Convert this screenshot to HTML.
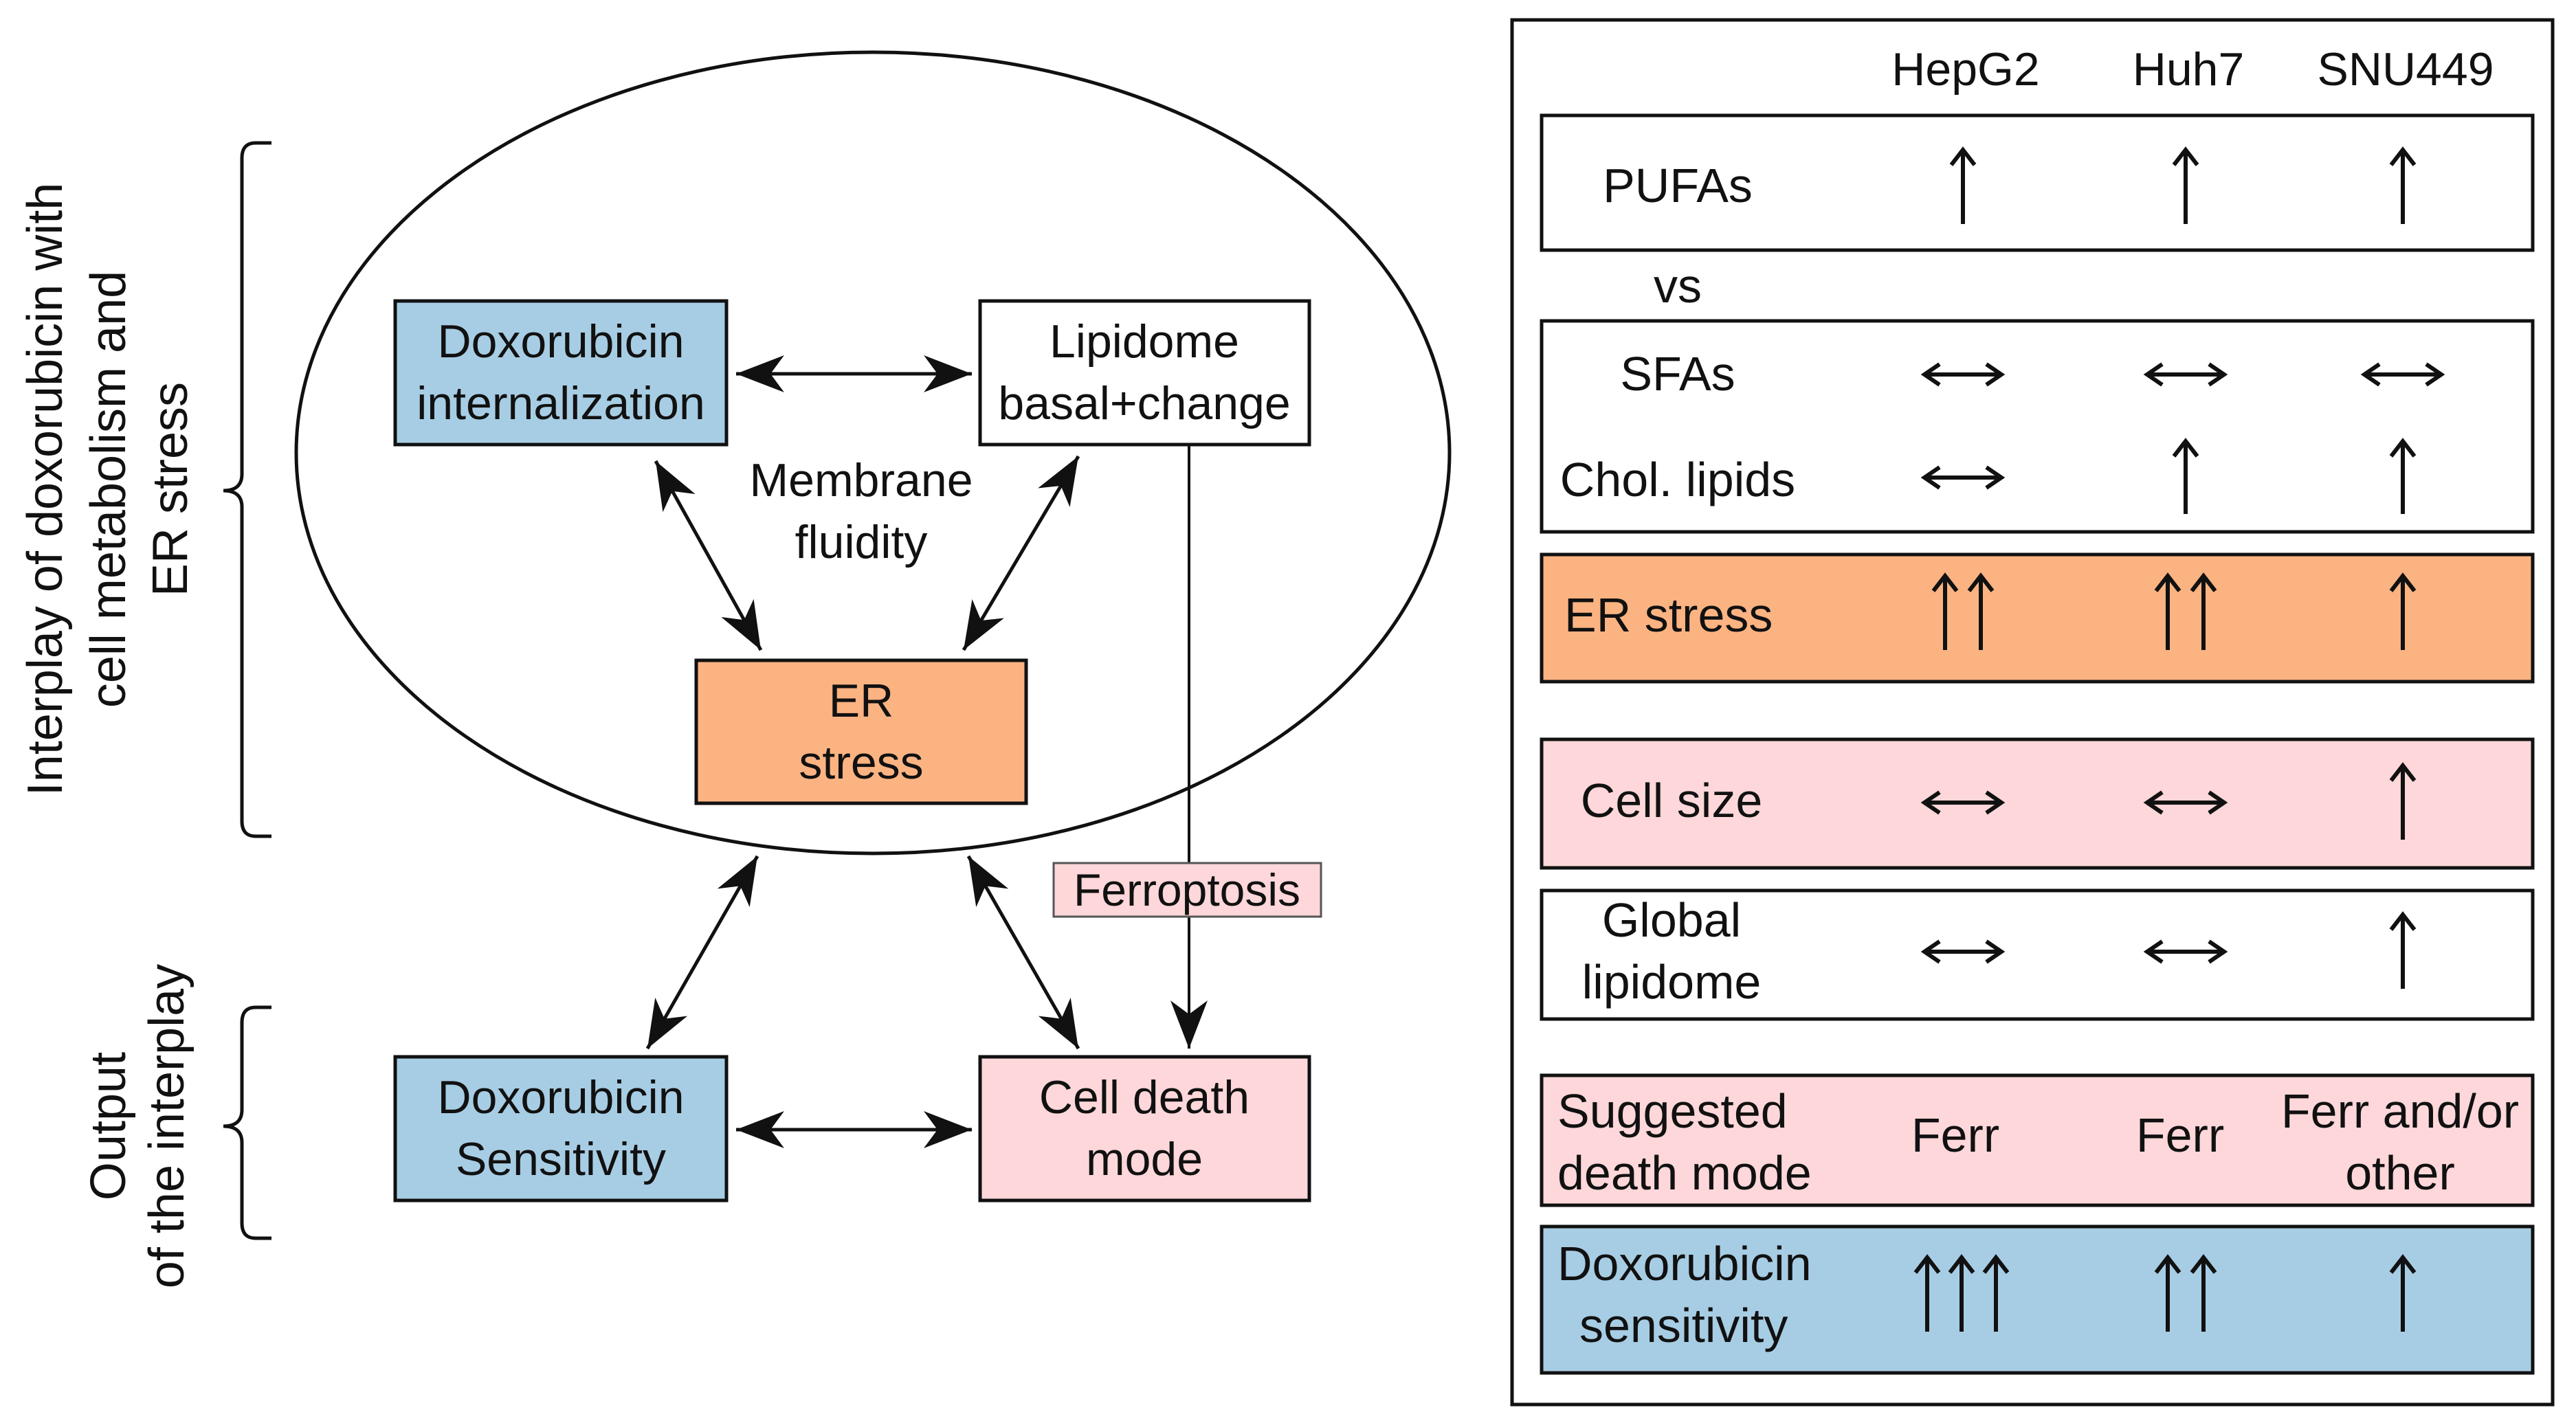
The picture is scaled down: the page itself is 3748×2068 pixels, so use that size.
<!DOCTYPE html>
<html><head><meta charset="utf-8"><style>
html,body{margin:0;padding:0;background:#fff;}
svg{display:block;}
text{font-family:"Liberation Sans",Arial,sans-serif;fill:#111;}
</style></head><body>
<svg width="3748" height="2068" viewBox="0 0 3748 2068" xmlns="http://www.w3.org/2000/svg">
<defs>
<marker id="ah" markerUnits="userSpaceOnUse" markerWidth="90" markerHeight="70" refX="0" refY="0" viewBox="-80 -35 90 70" orient="auto-start-reverse">
<path d="M0,0 L-70,-27 L-50,0 L-70,27 Z" fill="#111"/>
</marker>
</defs>
<ellipse cx="1270" cy="659" rx="839" ry="583" fill="none" stroke="#111" stroke-width="5"/>
<rect x="575" y="438" width="482" height="209" fill="#a7cde4" stroke="#111" stroke-width="5"/>
<rect x="1426" y="438" width="479" height="209" fill="#fff" stroke="#111" stroke-width="5"/>
<rect x="1013" y="961" width="480" height="208" fill="#fbb382" stroke="#111" stroke-width="5"/>
<rect x="575" y="1538" width="482" height="209" fill="#a7cde4" stroke="#111" stroke-width="5"/>
<rect x="1426" y="1538" width="479" height="209" fill="#fdd7d9" stroke="#111" stroke-width="5"/>
<g font-size="68" text-anchor="middle">
<text x="816" y="520">Doxorubicin</text><text x="816" y="610">internalization</text>
<text x="1665" y="520">Lipidome</text><text x="1665" y="610">basal+change</text>
<text x="1253" y="722">Membrane</text><text x="1253" y="812">fluidity</text>
<text x="1253" y="1043">ER</text><text x="1253" y="1133">stress</text>
<text x="816" y="1620">Doxorubicin</text><text x="816" y="1710">Sensitivity</text>
<text x="1665" y="1620">Cell death</text><text x="1665" y="1710">mode</text>
</g>
<g stroke="#111" stroke-width="5" fill="none" marker-start="url(#ah)" marker-end="url(#ah)">
<line x1="1071" y1="544" x2="1414" y2="544"/>
<line x1="1071" y1="1644" x2="1414" y2="1644"/>
<line x1="954" y1="671" x2="1107" y2="946"/>
<line x1="1569" y1="664" x2="1402" y2="946"/>
<line x1="1102" y1="1246" x2="942" y2="1526"/>
<line x1="1409" y1="1246" x2="1569" y2="1526"/>
</g>
<line x1="1730" y1="647" x2="1730" y2="1526" stroke="#111" stroke-width="4" marker-end="url(#ah)"/>
<rect x="1533" y="1256" width="389" height="78" fill="#fdd7d9" stroke="#555" stroke-width="3"/>
<text x="1727" y="1318" font-size="66" text-anchor="middle">Ferroptosis</text>
<path d="M395,208 L372,208 Q352,208 352,230 L352,690 Q352,714 325,714 Q352,714 352,738 L352,1195 Q352,1217 372,1217 L395,1217" fill="none" stroke="#111" stroke-width="5"/>
<path d="M395,1466 L372,1466 Q352,1466 352,1488 L352,1615 Q352,1639 325,1639 Q352,1639 352,1663 L352,1780 Q352,1802 372,1802 L395,1802" fill="none" stroke="#111" stroke-width="5"/>
<g font-size="72" text-anchor="middle">
<text transform="translate(90,712) rotate(-90)">Interplay of doxorubicin with</text>
<text transform="translate(182,712) rotate(-90)">cell metabolism and</text>
<text transform="translate(272,712) rotate(-90)">ER stress</text>
<text transform="translate(182,1639) rotate(-90)">Output</text>
<text transform="translate(267,1639) rotate(-90)">of the interplay</text>
</g>
<rect x="2200" y="29" width="1514" height="2015" fill="#fff" stroke="#111" stroke-width="5"/>
<g font-size="68" text-anchor="middle">
<text x="2860" y="124">HepG2</text><text x="3184" y="124">Huh7</text><text x="3500" y="124">SNU449</text>
</g>
<rect x="2243" y="168" width="1442" height="196" fill="#fff" stroke="#111" stroke-width="5"/>
<rect x="2243" y="467" width="1442" height="307" fill="#fff" stroke="#111" stroke-width="5"/>
<rect x="2243" y="807" width="1442" height="185" fill="#fbb382" stroke="#111" stroke-width="5"/>
<rect x="2243" y="1076" width="1442" height="187" fill="#fdd7d9" stroke="#111" stroke-width="5"/>
<rect x="2243" y="1296" width="1442" height="187" fill="#fff" stroke="#111" stroke-width="5"/>
<rect x="2243" y="1565" width="1442" height="189" fill="#fdd7d9" stroke="#111" stroke-width="5"/>
<rect x="2243" y="1785" width="1442" height="213" fill="#a7cde4" stroke="#111" stroke-width="5"/>
<g font-size="70">
<text x="2441" y="294" text-anchor="middle">PUFAs</text>
<text x="2441" y="440" text-anchor="middle">vs</text>
<text x="2441" y="568" text-anchor="middle">SFAs</text>
<text x="2441" y="722" text-anchor="middle">Chol. lipids</text>
<text x="2276" y="919">ER stress</text>
<text x="2432" y="1189" text-anchor="middle">Cell size</text>
<text x="2432" y="1363" text-anchor="middle">Global</text>
<text x="2432" y="1453" text-anchor="middle">lipidome</text>
<text x="2266" y="1641">Suggested</text>
<text x="2266" y="1731">death mode</text>
<text x="2845" y="1676" text-anchor="middle">Ferr</text>
<text x="3172" y="1676" text-anchor="middle">Ferr</text>
<text x="3492" y="1641" text-anchor="middle">Ferr and/or</text>
<text x="3492" y="1731" text-anchor="middle">other</text>
<text x="2266" y="1863">Doxorubicin</text>
<text x="2298" y="1953">sensitivity</text>
</g>
<g stroke="#111" stroke-width="6" fill="none" stroke-linejoin="miter">
<path d="M2856,326 V218 M2839,240 L2856,218 L2873,240"/>
<path d="M3180,326 V218 M3163,240 L3180,218 L3197,240"/>
<path d="M3496,326 V218 M3479,240 L3496,218 L3513,240"/>
<path d="M2800,545 H2912 M2822,530 L2800,545 L2822,560 M2890,530 L2912,545 L2890,560"/>
<path d="M3124,545 H3236 M3146,530 L3124,545 L3146,560 M3214,530 L3236,545 L3214,560"/>
<path d="M3440,545 H3552 M3462,530 L3440,545 L3462,560 M3530,530 L3552,545 L3530,560"/>
<path d="M2800,695 H2912 M2822,680 L2800,695 L2822,710 M2890,680 L2912,695 L2890,710"/>
<path d="M3180,748 V642 M3163,664 L3180,642 L3197,664"/>
<path d="M3496,748 V642 M3479,664 L3496,642 L3513,664"/>
<path d="M2830,946 V838 M2813,860 L2830,838 L2847,860 M2882,946 V838 M2865,860 L2882,838 L2899,860"/>
<path d="M3154,946 V838 M3137,860 L3154,838 L3171,860 M3206,946 V838 M3189,860 L3206,838 L3223,860"/>
<path d="M3496,946 V838 M3479,860 L3496,838 L3513,860"/>
<path d="M2800,1168 H2912 M2822,1153 L2800,1168 L2822,1183 M2890,1153 L2912,1168 L2890,1183"/>
<path d="M3124,1168 H3236 M3146,1153 L3124,1168 L3146,1183 M3214,1153 L3236,1168 L3214,1183"/>
<path d="M3496,1222 V1114 M3479,1136 L3496,1114 L3513,1136"/>
<path d="M2800,1385 H2912 M2822,1370 L2800,1385 L2822,1400 M2890,1370 L2912,1385 L2890,1400"/>
<path d="M3124,1385 H3236 M3146,1370 L3124,1385 L3146,1400 M3214,1370 L3236,1385 L3214,1400"/>
<path d="M3496,1439 V1331 M3479,1353 L3496,1331 L3513,1353"/>
<path d="M2804,1938 V1830 M2787,1852 L2804,1830 L2821,1852 M2854,1938 V1830 M2837,1852 L2854,1830 L2871,1852 M2904,1938 V1830 M2887,1852 L2904,1830 L2921,1852"/>
<path d="M3154,1938 V1830 M3137,1852 L3154,1830 L3171,1852 M3206,1938 V1830 M3189,1852 L3206,1830 L3223,1852"/>
<path d="M3496,1938 V1830 M3479,1852 L3496,1830 L3513,1852"/>
</g>
</svg>
</body></html>
